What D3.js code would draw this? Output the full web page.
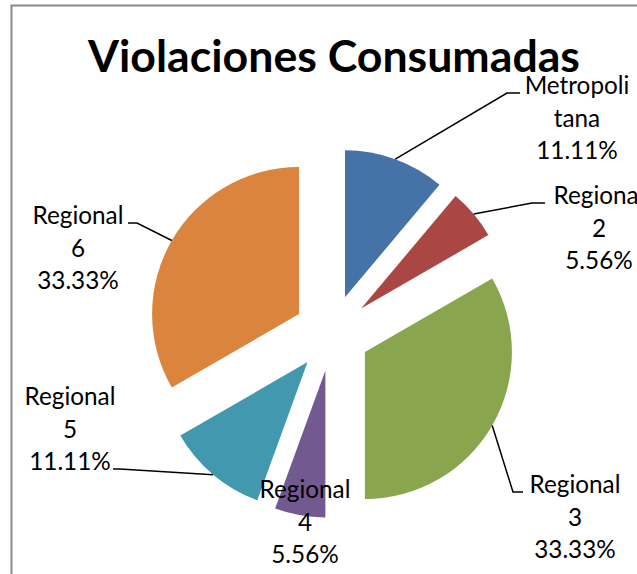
<!DOCTYPE html>
<html>
<head>
<meta charset="utf-8">
<script src="https://cdn.jsdelivr.net/npm/d3@7"></script>
<style>
  html, body { margin: 0; padding: 0; background: #fff; }
  svg { display: block; }
</style>
</head>
<body>
<script>
// ---- data ----
const categories = ["Metropolitana", "Regional 2", "Regional 3", "Regional 4", "Regional 5", "Regional 6"];
const labelLines = [["Metropoli", "tana"], ["Regional", "2"], ["Regional", "3"], ["Regional", "4"], ["Regional", "5"], ["Regional", "6"]];
const values = [2, 1, 6, 1, 2, 6];
const colors = ["#4572A7", "#AA4643", "#89A54E", "#72598F", "#4198AF", "#DB843D"];
const title = "Violaciones Consumadas";

// ---- layout ----
const W = 637, H = 574;
const cx = 332, cy = 333, R = 147, explode = 38;
// label anchor (centre x, first baseline y) and leader elbow points
const labelLayout = [
  { x: 577, y: 94,  leader: [[507, 93], [520, 93]] },
  { x: 599, y: 204, leader: [[532, 203], [545, 203]] },
  { x: 575, y: 493, leader: [[513, 492], [523, 492]] },
  { x: 305, y: 498, leader: null },
  { x: 70,  y: 405, leader: [[120, 469], [113, 469]] },
  { x: 78,  y: 224, leader: [[137, 223], [128, 223]] }
];
const lineH = 32.5;
const font = "Lato, 'Open Sans', sans-serif";

const svg = d3.select("body").append("svg").attr("width", W).attr("height", H);

// chart border (partially cropped in the reference)
svg.append("rect")
  .attr("x", 11.5).attr("y", 5.5)
  .attr("width", W + 20).attr("height", H + 20)
  .attr("fill", "none").attr("stroke", "#8a8a8a").attr("stroke-width", 2);

// title
svg.append("text")
  .attr("x", 334).attr("y", 72)
  .attr("text-anchor", "middle")
  .attr("font-family", font).attr("font-weight", "bold")
  .attr("font-size", 43)
  .attr("textLength", 492).attr("lengthAdjust", "spacingAndGlyphs")
  .attr("fill", "#000")
  .text(title);

const total = d3.sum(values);
const pie = d3.pie().sort(null).value(d => d)(values);
const arc = d3.arc().innerRadius(0).outerRadius(R);

const g = svg.append("g").attr("transform", `translate(${cx},${cy})`);

g.selectAll("path.slice").data(pie).join("path")
  .attr("class", "slice")
  .attr("fill", (d, i) => colors[i])
  .attr("transform", d => {
    const a = (d.startAngle + d.endAngle) / 2;
    return `translate(${explode * Math.sin(a)},${-explode * Math.cos(a)})`;
  })
  .attr("d", arc);

// leader lines
pie.forEach((d, i) => {
  const L = labelLayout[i];
  if (!L.leader) return;
  const a = (d.startAngle + d.endAngle) / 2;
  const start = [cx + (explode + R) * Math.sin(a), cy - (explode + R) * Math.cos(a)];
  const pts = [start].concat(L.leader);
  svg.append("path")
    .attr("d", d3.line()(pts))
    .attr("fill", "none").attr("stroke", "#000").attr("stroke-width", 1.5);
});

// labels
const fmt = v => (v / total * 100).toFixed(2) + "%";
pie.forEach((d, i) => {
  const L = labelLayout[i];
  const lines = labelLines[i].concat([fmt(values[i])]);
  const t = svg.append("text")
    .attr("text-anchor", "middle")
    .attr("font-family", font).attr("font-size", 24.3)
    .attr("fill", "#000");
  lines.forEach((s, k) => {
    t.append("tspan").attr("x", L.x).attr("y", L.y + k * lineH).text(s);
  });
});
</script>
</body>
</html>
